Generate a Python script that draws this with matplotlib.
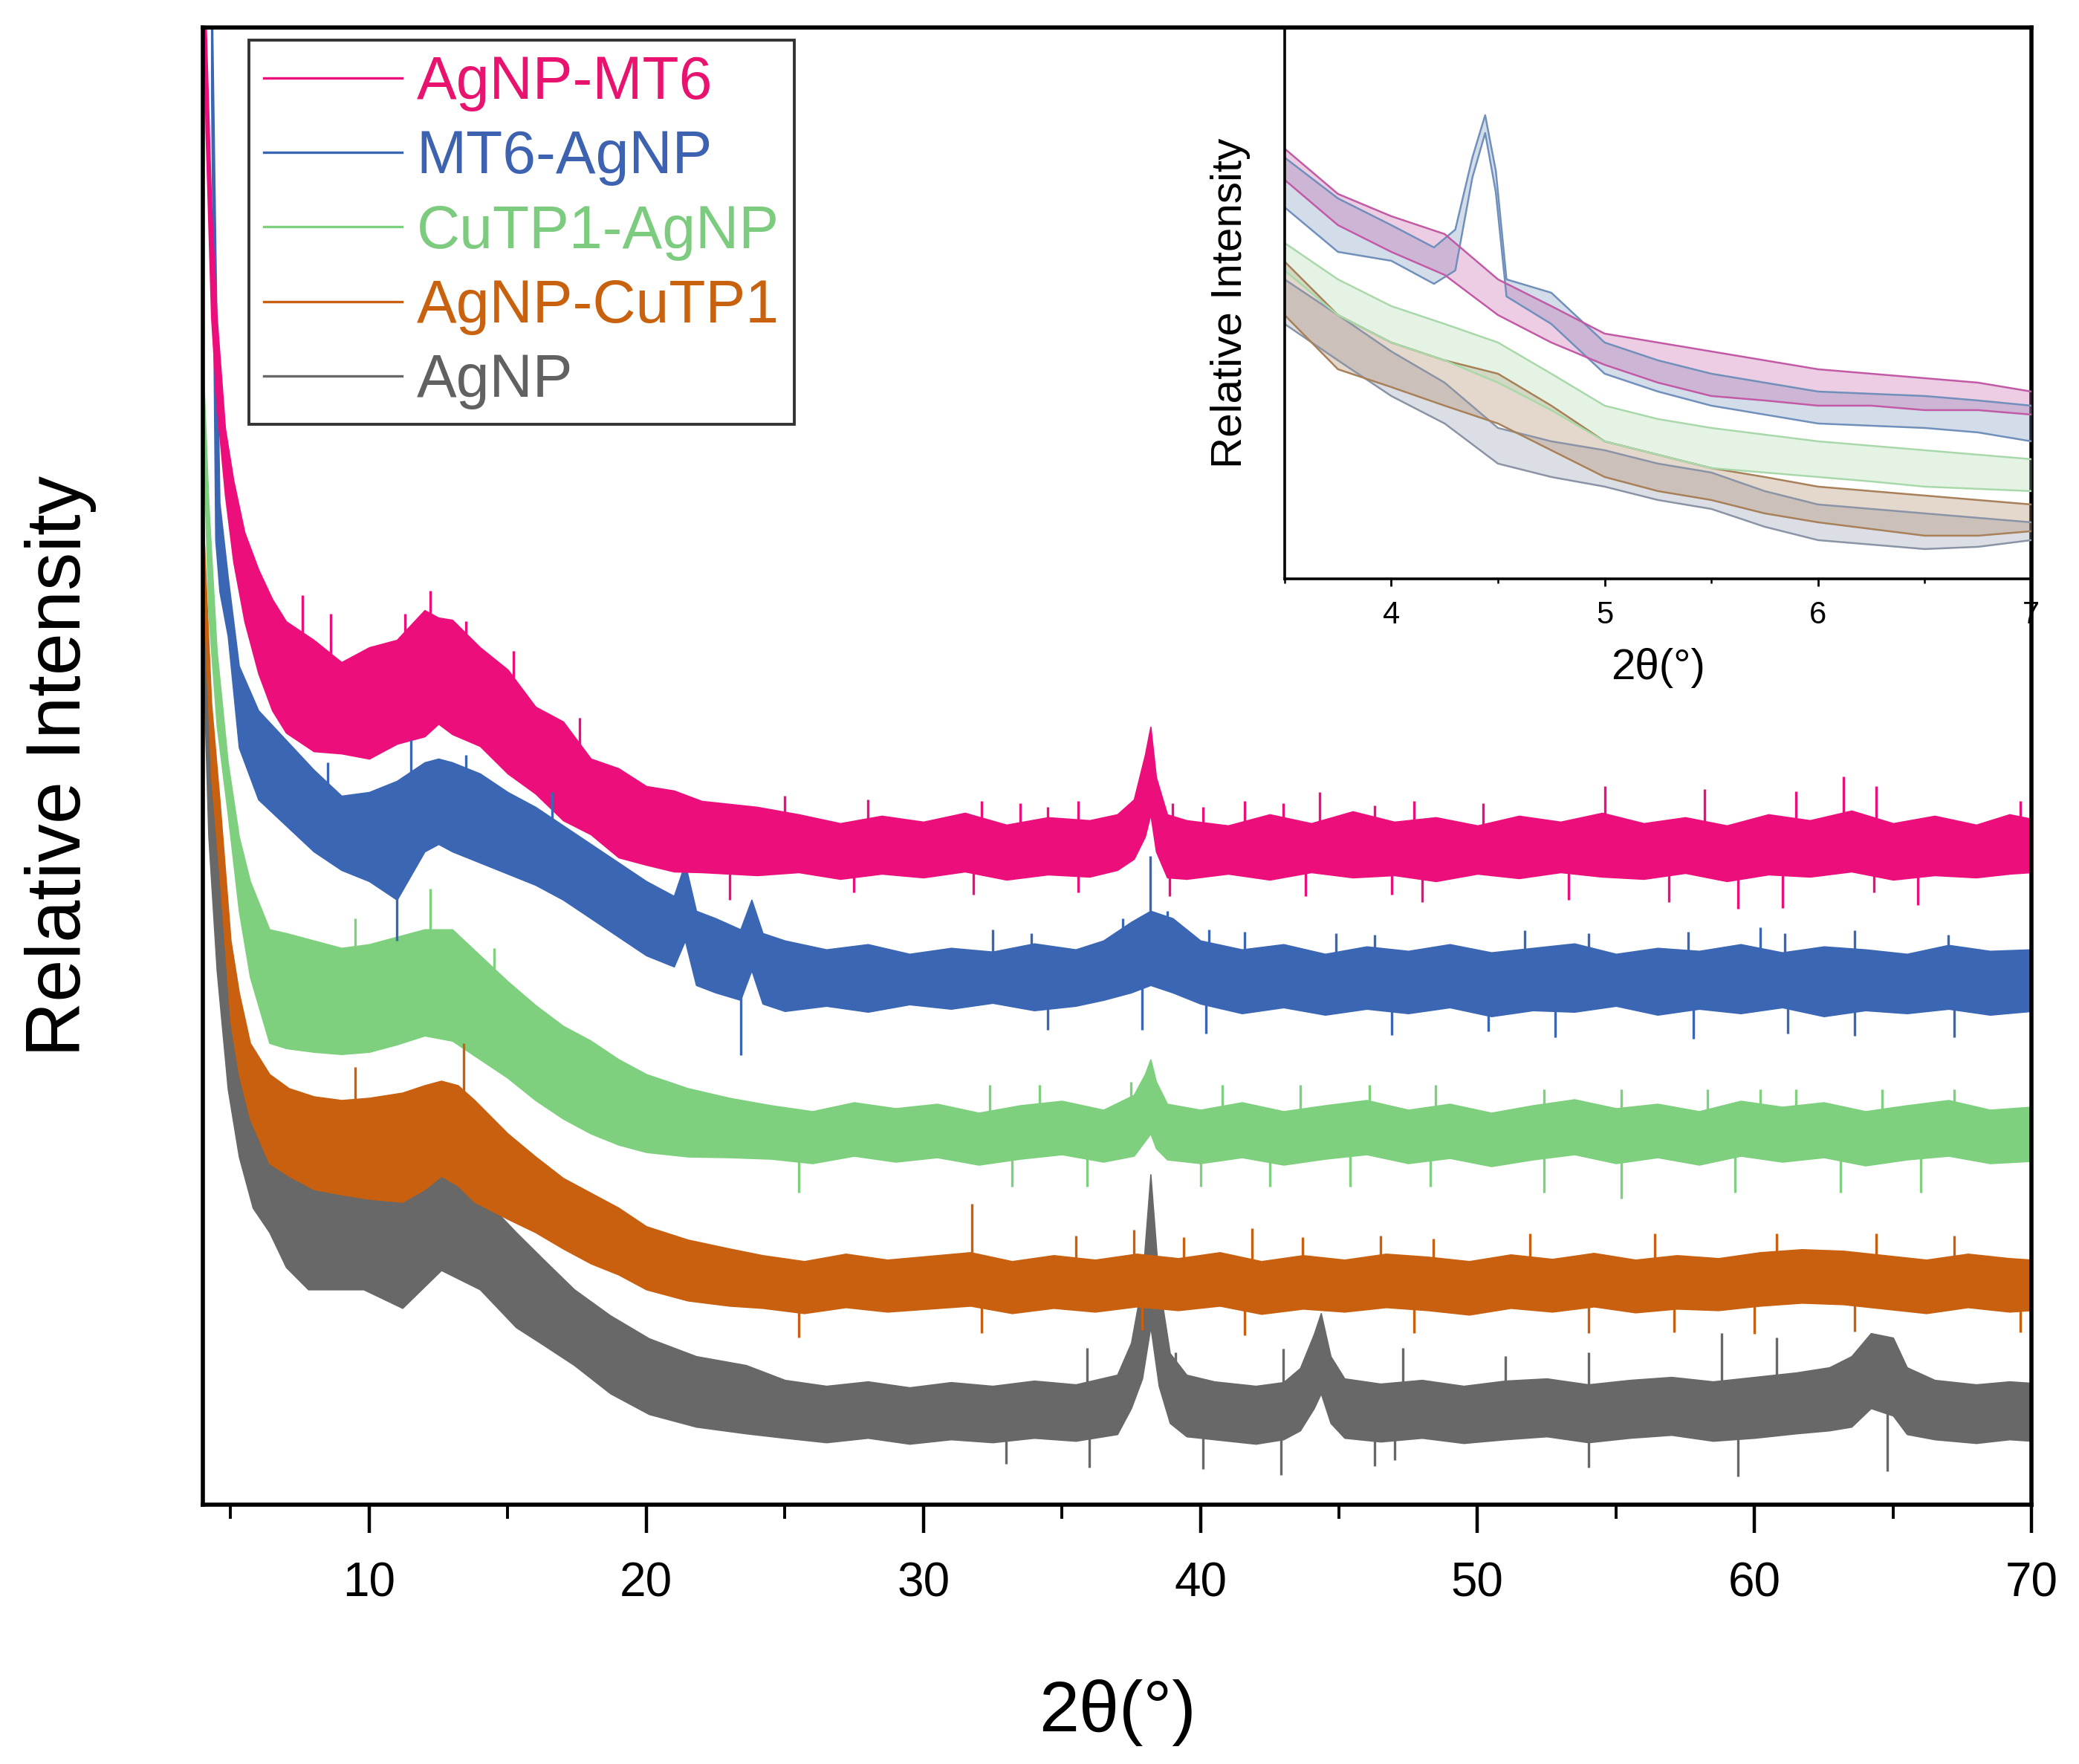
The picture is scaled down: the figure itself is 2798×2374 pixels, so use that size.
import matplotlib
matplotlib.use("Agg")
import matplotlib.pyplot as plt
from matplotlib.lines import Line2D
from matplotlib.ticker import MultipleLocator

plt.rcParams['font.family'] = ['Liberation Sans', 'DejaVu Sans']

labels = ['AgNP-MT6', 'MT6-AgNP', 'CuTP1-AgNP', 'AgNP-CuTP1', 'AgNP']
colors = ['#ec0e7b', '#3b66b4', '#7ed07f', '#c9600f', '#686868']
text_colors = ['#e8136f', '#3c62b0', '#7dcb7e', '#c8620f', '#616161']
inset_colors = ['#c25aa5', '#7090bb', '#a9d9aa', '#a88059', '#8a94a6']

# main XRD patterns: noise band (low / high edge) read along 2theta, a.u.
pink_x = [4.0, 4.1, 4.3, 4.5, 4.8, 5.1, 5.5, 6.0, 6.5, 7.0, 8.0, 9.0, 10.0, 11.0, 12.0, 12.5, 13.0, 14.0,
          15.0, 16.0, 17.0, 18.0, 19.0, 20.0, 21.0, 22.0,
          24.0, 25.5, 27.0, 28.5, 30.0, 31.5, 33.0, 34.5, 36.0, 37.0, 37.6, 38.0, 38.2, 38.4, 38.8, 39.5,
          41.0, 42.5, 44.0, 45.5, 47.0, 48.5, 50.0, 51.5, 53.0, 54.5, 56.0, 57.5, 59.0, 60.5, 62.0, 63.5,
          65.0, 66.5, 68.0, 69.2, 70.0]
pink_hi = [2200, 2000, 1750, 1600, 1450, 1380, 1310, 1260, 1220, 1190, 1165, 1135, 1155, 1165, 1205, 1195,
           1192, 1155, 1125, 1075, 1055, 1005, 992, 968, 962, 948,
           940, 930, 918, 928, 920, 932, 916, 926, 922, 930, 950, 1010, 1048, 980, 930, 922,
           915, 930, 918, 934, 920, 926, 915, 928, 920, 932, 918, 926, 915, 930, 922, 935,
           918, 928, 916, 930, 924]
pink_lo = [2050, 1850, 1600, 1480, 1360, 1270, 1190, 1120, 1070, 1040, 1015, 1012, 1005, 1025, 1035, 1052,
           1038, 1022, 985, 958, 922, 903, 872, 862, 853, 852,
           848, 852, 843, 850, 845, 853, 842, 849, 846, 855, 870, 900, 930, 880, 845, 843,
           850, 842, 852, 845, 848, 840, 850, 844, 852, 846, 843, 851, 840, 849, 846, 853,
           842, 848, 845, 850, 852]

blue_x = [4.3, 4.45, 4.6, 4.9, 5.3, 6.0, 7.0, 8.0, 9.0, 10.0, 11.0, 12.0, 12.5, 13.0, 14.0, 15.0, 16.0,
          17.0, 18.0, 19.0, 20.0, 21.0, 21.4, 21.8, 22.5, 23.4, 23.8, 24.2,
          25.0, 26.5, 28.0, 29.5, 31.0, 32.5, 34.0, 35.5, 36.5, 37.5, 38.2, 39.0, 40.0, 41.5, 43.0, 44.5,
          46.0, 47.5, 49.0, 50.5, 52.0, 53.5, 55.0, 56.5, 58.0, 59.5, 61.0, 62.5, 64.0, 65.5, 67.0, 68.5,
          70.0]
blue_hi = [2100, 1700, 1350, 1250, 1130, 1070, 1030, 990, 955, 960, 975, 1000, 1005, 1000, 985, 960, 940,
           915, 890, 865, 840, 820, 864, 800, 790, 775, 815, 770,
           760, 748, 755, 742, 750, 745, 756, 748, 760, 785, 800, 790, 760, 748, 755, 742,
           752, 746, 755, 744, 750, 756, 742, 750, 746, 755, 744, 752, 748, 742, 754, 746,
           748]
blue_lo = [1900, 1300, 1230, 1170, 1020, 950, 915, 880, 855, 840, 815, 880, 890, 880, 865, 850, 835,
           815, 790, 765, 740, 725, 760, 700, 690, 680, 720, 675,
           665, 672, 664, 674, 668, 676, 666, 672, 680, 690, 700, 690, 675, 662, 670, 660,
           668, 662, 670, 658, 666, 664, 672, 660, 668, 662, 670, 658, 666, 662, 668, 660,
           665]

green_x = [4.0, 4.2, 4.5, 4.9, 5.3, 5.7, 6.4, 7.0, 8.0, 9.0, 10.0, 11.0, 12.0, 13.0, 14.0, 15.0, 16.0,
           17.0, 18.0, 19.0, 20.0, 21.5, 23.0,
           24.5, 26.0, 27.5, 29.0, 30.5, 32.0, 33.5, 35.0, 36.5, 37.6, 38.0, 38.2, 38.4, 38.8, 40.0,
           41.5, 43.0, 44.5, 46.0, 47.5, 49.0, 50.5, 52.0, 53.5, 55.0, 56.5, 58.0, 59.5, 61.0, 62.5,
           64.0, 65.5, 67.0, 68.5, 70.0]
green_hi = [1540, 1350, 1150, 1000, 900, 840, 775, 770, 760, 750, 755, 765, 775, 775, 740, 705, 673,
            645, 625, 600, 580, 561, 548,
            538, 530, 542, 534, 540, 528, 538, 544, 532, 552, 580, 600, 570, 540, 532,
            542, 530, 538, 545, 532, 540, 528, 538, 546, 534, 540, 530, 544, 536, 542,
            530, 538, 545, 532, 536]
green_lo = [1450, 1200, 1050, 930, 800, 711, 622, 615, 610, 607, 610, 620, 632, 625, 600, 575, 545,
            520, 500, 485, 475, 469, 468,
            466, 460, 470, 462, 468, 458, 466, 472, 462, 470, 490, 500, 480, 465, 460,
            468, 458, 466, 472, 460, 467, 456, 465, 472, 460, 468, 458, 470, 462, 468,
            457, 465, 470, 460, 463]

orange_x = [4.0, 4.3, 4.6, 5.0, 5.3, 5.7, 6.4, 7.1, 8.0, 9.0, 10.0, 11.2, 12.0, 12.6, 13.2, 13.8, 15.0,
            16.0, 17.0, 18.0, 19.0, 20.0, 21.5, 23.0,
            24.2, 25.7, 27.2, 28.7, 30.2, 31.7, 33.2, 34.7, 36.2, 37.7, 39.2, 40.7, 42.2, 43.7, 45.2,
            46.7, 48.2, 49.7, 51.2, 52.7, 54.2, 55.7, 57.2, 58.7, 60.2, 61.7, 63.2, 64.7, 66.2, 67.7,
            69.2, 70.0]
orange_hi = [1330, 1080, 950, 760, 690, 622, 580, 561, 550, 545, 548, 555, 565, 571, 565, 545, 500,
             469, 440, 420, 400, 375, 357, 345,
             336, 328, 338, 330, 335, 340, 328, 336, 330, 338, 332, 340, 328, 336, 330,
             338, 334, 328, 337, 331, 339, 330, 336, 332, 340, 344, 342, 336, 330, 338,
             332, 330]
orange_lo = [1250, 980, 850, 650, 580, 520, 460, 443, 425, 418, 412, 408, 425, 443, 430, 408, 385,
             367, 345, 325, 310, 290, 275, 268,
             265, 258, 266, 260, 264, 268, 258, 265, 260, 267, 262, 268, 257, 264, 260,
             266, 262, 256, 265, 260, 267, 259, 264, 262, 268, 272, 270, 264, 258, 266,
             260, 262]

gray_x = [4.0, 4.2, 4.5, 4.9, 5.3, 5.8, 6.4, 7.0, 7.8, 9.0, 9.8, 11.2, 12.6, 14.0, 15.3, 16.3, 17.4,
          18.7, 20.1, 21.8,
          23.6, 25.0, 26.5, 28.0, 29.5, 31.0, 32.5, 34.0, 35.5, 37.0, 37.5, 37.9, 38.2, 38.5, 38.9,
          39.5, 40.5, 42.0, 43.0, 43.6, 44.1, 44.35, 44.7, 45.2, 46.5, 48.0, 49.5, 51.0, 52.5, 54.0,
          55.5, 57.0, 58.5, 60.0, 61.5, 62.7, 63.5, 64.2, 65.0, 65.5, 66.5, 68.0, 69.2, 70.0]
gray_hi = [1350, 1100, 900, 720, 647, 540, 469, 450, 443, 435, 428, 443, 459, 418, 367, 330, 290,
           255, 224, 200,
           188, 168, 160, 166, 158, 165, 160, 167, 162, 175, 218, 300, 445, 300, 204,
           175, 166, 160, 165, 184, 230, 258, 200, 170, 163, 168, 160, 167, 170, 162,
           168, 172, 166, 172, 178, 185, 200, 231, 225, 185, 168, 162, 166, 164]
gray_lo = [1150, 900, 720, 560, 469, 400, 367, 320, 290, 290, 290, 265, 316, 290, 239, 215, 188,
           150, 122, 105,
           96, 90, 84, 90, 82, 88, 84, 90, 86, 95, 130, 170, 240, 160, 110,
           92, 88, 82, 88, 100, 130, 150, 110, 90, 85, 90, 83, 88, 92, 84,
           90, 94, 86, 90, 96, 100, 105, 130, 120, 95, 88, 83, 88, 86]

# single noise spikes sticking out of the bands: (2theta, from, to)
pink_spikes = [(7.6, 1110, 1225), (8.6, 1085, 1200), (11.3, 1100, 1200), (12.2, 1120, 1231),
               (13.5, 1110, 1190), (15.2, 1055, 1150), (17.6, 980, 1060), (25.0, 890, 955),
               (28.0, 885, 950), (32.1, 885, 948), (33.5, 885, 945), (34.5, 885, 940),
               (35.6, 885, 948), (39.0, 885, 945), (40.1, 885, 940), (41.6, 885, 948),
               (43.0, 885, 945), (44.3, 885, 960), (46.3, 885, 942), (47.7, 885, 948),
               (50.2, 885, 945), (54.6, 885, 968), (58.2, 885, 964), (61.5, 885, 961),
               (63.2, 885, 981), (64.4, 885, 968), (69.6, 885, 948),
               (23.0, 815, 885), (27.5, 825, 885), (31.8, 822, 885), (35.6, 825, 885),
               (38.9, 820, 885), (43.8, 820, 885), (46.9, 822, 885), (48.0, 812, 885),
               (53.3, 815, 885), (56.9, 812, 885), (59.4, 803, 885), (61.0, 804, 885),
               (64.3, 825, 885), (65.9, 808, 885)]
blue_spikes = [(8.5, 930, 1000), (11.5, 930, 1030), (13.5, 940, 1010), (16.6, 880, 960),
               (32.5, 710, 775), (33.9, 710, 770), (37.2, 720, 790), (38.2, 750, 874),
               (38.8, 740, 800), (40.3, 710, 775), (41.6, 710, 772), (44.9, 710, 770),
               (46.3, 710, 768), (51.7, 710, 774), (54.0, 710, 770), (57.6, 710, 772),
               (60.2, 710, 778), (61.1, 710, 770), (63.6, 710, 774), (67.0, 710, 768),
               (11.0, 760, 880), (23.4, 606, 720), (34.5, 640, 710), (37.9, 640, 720),
               (40.2, 635, 710), (46.9, 633, 710), (50.4, 638, 710), (52.8, 630, 710),
               (57.8, 628, 710), (61.2, 635, 710), (63.6, 632, 710), (67.2, 630, 710)]
green_spikes = [(9.5, 680, 790), (12.2, 700, 830), (14.5, 670, 750),
                (32.4, 500, 566), (34.2, 500, 566), (37.5, 500, 570), (40.8, 500, 566),
                (43.6, 500, 566), (46.1, 500, 566), (48.5, 500, 566), (52.4, 500, 560),
                (55.2, 500, 560), (58.3, 500, 560), (60.2, 500, 560), (61.5, 500, 560),
                (64.6, 500, 560), (67.2, 500, 560),
                (25.5, 420, 500), (33.2, 428, 500), (35.9, 428, 500), (40.0, 428, 500),
                (42.5, 428, 500), (45.4, 428, 500), (48.3, 428, 500), (52.4, 420, 500),
                (55.2, 412, 500), (59.3, 420, 500), (63.1, 420, 500), (66.0, 420, 500)]
orange_spikes = [(9.5, 480, 590), (13.4, 500, 622),
                 (31.75, 300, 405), (35.5, 300, 362), (37.6, 300, 370), (39.4, 300, 360),
                 (41.85, 300, 372), (43.7, 300, 360), (46.5, 300, 362), (48.4, 300, 358),
                 (51.9, 300, 365), (56.4, 300, 365), (60.8, 300, 365), (64.4, 300, 365),
                 (67.2, 300, 362),
                 (25.5, 225, 300), (32.1, 231, 300), (37.9, 235, 300), (41.6, 228, 300),
                 (47.7, 231, 300), (54.0, 231, 300), (57.1, 232, 300), (60.0, 230, 300),
                 (63.6, 233, 300), (69.6, 232, 300)]
gray_spikes = [(35.9, 125, 211), (39.1, 125, 205), (43.0, 125, 210), (47.3, 125, 211),
               (51.0, 125, 200), (54.0, 125, 205), (58.8, 125, 231), (60.8, 125, 225),
               (33.0, 55, 125), (36.0, 50, 125), (40.1, 48, 125), (42.9, 40, 125),
               (46.3, 52, 125), (47.0, 60, 125), (54.0, 50, 125), (59.4, 38, 125),
               (64.8, 45, 125)]

# inset (3.5 - 7 deg), bands in inset units
ins_x = [3.5, 3.75, 4.0, 4.25, 4.5, 4.75, 5.0, 5.25, 5.5, 5.75, 6.0, 6.25, 6.5, 6.75, 7.0]
ins_pink_hi = [579, 518, 488, 464, 403, 367, 330, 318, 306, 294, 282, 276, 270, 264, 252]
ins_pink_lo = [537, 476, 440, 409, 355, 318, 288, 264, 246, 240, 233, 233, 227, 227, 221]
ins_blue_x = [3.5, 3.75, 4.0, 4.2, 4.3, 4.38, 4.44, 4.49, 4.54, 4.75, 5.0, 5.25, 5.5, 5.75, 6.0, 6.25, 6.5,
              6.75, 7.0]
ins_blue_hi = [567, 512, 476, 446, 470, 567, 624, 549, 403, 385, 318, 294, 276, 264, 252, 249, 246, 240, 233]
ins_blue_lo = [500, 440, 428, 397, 415, 540, 600, 520, 380, 343, 276, 252, 233, 221, 209, 206, 203, 197, 185]
ins_green_hi = [452, 403, 367, 343, 318, 276, 233, 215, 203, 194, 185, 179, 173, 167, 161]
ins_green_lo = [415, 355, 318, 294, 264, 227, 185, 167, 149, 143, 137, 131, 124, 121, 118]
ins_orange_hi = [427, 355, 318, 294, 276, 233, 185, 167, 149, 137, 124, 118, 112, 106, 100]
ins_orange_lo = [355, 282, 258, 233, 209, 173, 137, 118, 106, 88, 76, 67, 58, 58, 64]
ins_gray_hi = [403, 355, 306, 264, 203, 185, 173, 155, 143, 118, 100, 94, 88, 82, 76]
ins_gray_lo = [343, 294, 246, 209, 155, 137, 124, 106, 94, 70, 52, 46, 40, 43, 52]

fig = plt.figure(figsize=(13.99, 11.87), dpi=200)
ax = fig.add_axes([0.0976, 0.147, 0.8796, 0.8374])

main = [
    (gray_x, gray_lo, gray_hi, gray_spikes, colors[4]),
    (orange_x, orange_lo, orange_hi, orange_spikes, colors[3]),
    (green_x, green_lo, green_hi, green_spikes, colors[2]),
    (blue_x, blue_lo, blue_hi, blue_spikes, colors[1]),
    (pink_x, pink_lo, pink_hi, pink_spikes, colors[0]),
]
for x, lo, hi, spikes, c in main:
    ax.fill_between(x, lo, hi, color=c, lw=0.6, edgecolor=c)
    sx, slo, shi = zip(*spikes)
    ax.vlines(sx, slo, shi, color=c, lw=1.2)

ax.set_xlim(4, 70)
ax.set_ylim(0, 1990)
ax.set_yticks([])
ax.xaxis.set_major_locator(MultipleLocator(10))
ax.xaxis.set_minor_locator(MultipleLocator(5))
ax.tick_params(axis='x', which='major', length=13.5, width=1.6, pad=14, labelsize=23)
ax.tick_params(axis='x', which='minor', length=7, width=1.4)
for s in ax.spines.values():
    s.set_linewidth(2.0)
ax.set_xlabel('2θ(°)', fontsize=35)
ax.xaxis.set_label_coords(0.5, -0.118)
ax.set_ylabel('Relative Intensity', fontsize=37)
ax.yaxis.set_label_coords(-0.058, 0.5)

handles = [Line2D([], [], color=c, lw=1.2) for c in colors]
leg = ax.legend(handles, labels, loc='upper left', bbox_to_anchor=(0.0252, 0.9914),
                borderaxespad=0, fontsize=29, labelspacing=0.3, handlelength=2.3,
                handletextpad=0.25, borderpad=0.25, fancybox=False, framealpha=1,
                edgecolor='#333333')
leg.get_frame().set_linewidth(1.4)
for t, c in zip(leg.get_texts(), text_colors):
    t.set_color(c)

# inset
ins = fig.add_axes([0.6179, 0.6719, 0.3592, 0.3125])
ins.patch.set_alpha(0)
inset_rows = [
    (ins_x, ins_gray_lo, ins_gray_hi, inset_colors[4]),
    (ins_x, ins_orange_lo, ins_orange_hi, inset_colors[3]),
    (ins_x, ins_green_lo, ins_green_hi, inset_colors[2]),
    (ins_blue_x, ins_blue_lo, ins_blue_hi, inset_colors[1]),
    (ins_x, ins_pink_lo, ins_pink_hi, inset_colors[0]),
]
for x, lo, hi, c in inset_rows:
    ins.fill_between(x, lo, hi, color=c, alpha=0.3, lw=0)
    ins.plot(x, lo, color=c, lw=0.9)
    ins.plot(x, hi, color=c, lw=0.9)
ins.set_xlim(3.5, 7)
ins.set_ylim(0, 742)
ins.set_yticks([])
ins.spines['top'].set_visible(False)
ins.spines['right'].set_visible(False)
for s in ['left', 'bottom']:
    ins.spines[s].set_linewidth(1.3)
ins.xaxis.set_major_locator(MultipleLocator(1))
ins.xaxis.set_minor_locator(MultipleLocator(0.5))
ins.tick_params(axis='x', which='major', length=3.5, width=1.0, pad=7, labelsize=15)
ins.tick_params(axis='x', which='minor', length=2, width=0.9)
ins.set_xlabel('2θ(°)', fontsize=21)
ins.xaxis.set_label_coords(0.5, -0.125)
ins.set_ylabel('Relative Intensity', fontsize=21)
ins.yaxis.set_label_coords(-0.046, 0.5)

fig.savefig('out.png', dpi=200)
